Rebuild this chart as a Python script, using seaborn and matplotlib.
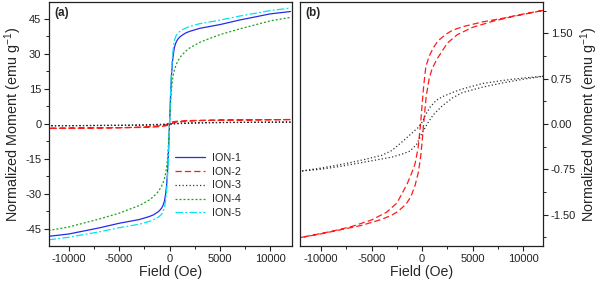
import numpy as np
import pandas as pd
import matplotlib
matplotlib.use("Agg")
import matplotlib.pyplot as plt
import seaborn as sns
from matplotlib.ticker import MultipleLocator

# field axis for the soft samples (no visible loop)
H_sat = [-12000, -10000, -7000, -5000, -3000, -2000, -1600, -1200, -1000, -800, -650, -500,
         -400, -300, -200, -150, -100, -50, 0, 50, 100, 150, 200, 300, 400, 500, 650, 800,
         1000, 1200, 1600, 2000, 3000, 5000, 7000, 10000, 12000]
M_ion1 = [-48.2, -47.2, -44.6, -42.6, -41.0, -39.7, -39.0, -37.9, -37.2, -36.2, -35.0, -33.0,
          -30.5, -27.0, -21.0, -16.5, -11.5, -6.0, 0.0, 6.0, 11.5, 16.5, 21.0, 27.0, 30.5,
          33.0, 35.0, 36.2, 37.2, 37.9, 39.0, 39.7, 41.0, 42.6, 44.6, 47.2, 48.2]
M_ion4 = [-45.7, -44.2, -40.8, -38.3, -35.0, -32.6, -31.2, -29.4, -28.2, -26.8, -25.3, -23.3,
          -21.5, -19.0, -15.0, -12.0, -8.0, -4.0, 0.0, 4.0, 8.0, 12.0, 15.0, 19.0, 21.5,
          23.3, 25.3, 26.8, 28.2, 29.4, 31.2, 32.6, 35.0, 38.3, 40.8, 44.2, 45.7]
M_ion5 = [-49.7, -48.6, -46.3, -44.5, -43.0, -41.8, -41.1, -40.2, -39.6, -38.8, -37.8, -36.0,
          -33.2, -29.5, -23.0, -18.5, -13.0, -7.0, 0.0, 7.0, 13.0, 18.5, 23.0, 29.5, 33.2,
          36.0, 37.8, 38.8, 39.6, 40.2, 41.1, 41.8, 43.0, 44.5, 46.3, 48.6, 49.7]

# ION-2 loop (descending then ascending branch)
H2_down = [12000, 10000, 8000, 6000, 4000, 3000, 2400, 1600, 1100, 700, 370, 150, 0, -150,
           -400, -700, -1000, -1500, -2500, -3500, -5000, -7000, -9000, -12000]
M2_down = [1.88, 1.82, 1.75, 1.69, 1.61, 1.55, 1.49, 1.38, 1.26, 1.12, 0.95, 0.62, 0.32, 0.0,
           -0.40, -0.66, -0.80, -1.00, -1.31, -1.46, -1.59, -1.70, -1.78, -1.88]
H2_up = [-12000, -10000, -8000, -6000, -4000, -3000, -2400, -1600, -1100, -700, -370, -150, 0,
         150, 400, 700, 1000, 1500, 2500, 3500, 5000, 7000, 9000, 12000]
M2_up = [-1.88, -1.82, -1.75, -1.68, -1.58, -1.51, -1.45, -1.33, -1.20, -1.02, -0.80, -0.55,
         -0.30, 0.0, 0.45, 0.75, 0.92, 1.08, 1.34, 1.48, 1.60, 1.70, 1.78, 1.88]

# ION-3 loop
H3_down = [12000, 10000, 8000, 6000, 4000, 3000, 2000, 1400, 800, 400, 0, -400, -1200,
           -2000, -3000, -4000, -6000, -8000, -10000, -12000]
M3_down = [0.79, 0.76, 0.72, 0.67, 0.58, 0.52, 0.45, 0.39, 0.28, 0.17, 0.03, -0.06, -0.18,
           -0.30, -0.44, -0.52, -0.60, -0.67, -0.73, -0.78]
H3_up = [-12000, -10000, -8000, -6000, -4000, -3000, -2000, -1200, -550, 0, 500, 1100, 2000,
         3000, 4000, 6000, 8000, 10000, 12000]
M3_up = [-0.78, -0.75, -0.70, -0.64, -0.58, -0.55, -0.50, -0.45, -0.34, -0.15, 0.0, 0.15,
         0.30, 0.43, 0.52, 0.61, 0.68, 0.74, 0.79]

sns.set_theme(style="ticks")
plt.rcParams['font.family'] = ['Liberation Sans', 'DejaVu Sans']
plt.rcParams['mathtext.fontset'] = 'custom'
plt.rcParams['mathtext.rm'] = 'Liberation Sans'
plt.rcParams['axes.linewidth'] = 0.9
plt.rcParams['axes.edgecolor'] = '#222222'

fig = plt.figure(figsize=(6.0, 2.82), dpi=100)
ax_a = fig.add_axes([0.0817, 0.128, 0.405, 0.865])
ax_b = fig.add_axes([0.500, 0.128, 0.405, 0.865])

BLUE, RED, GREY, GREEN, CYAN = '#2828ee', '#ff1a1a', '#333333', '#1aa51a', '#00e5ee'
lw = 0.9

def loop_df(h_down, m_down, h_up, m_up):
    return pd.DataFrame({'H': list(h_down) + list(h_up), 'M': list(m_down) + list(m_up)})

df2 = loop_df(H2_down, M2_down, H2_up, M2_up)
df3 = loop_df(H3_down, M3_down, H3_up, M3_up)

# panel (a)
sns.lineplot(x=H_sat, y=M_ion1, ax=ax_a, color=BLUE, lw=lw, sort=False, estimator=None, label='ION-1')
sns.lineplot(data=df2, x='H', y='M', ax=ax_a, color=RED, lw=lw, sort=False, estimator=None,
             label='ION-2', linestyle=(0, (5, 2.5)))
sns.lineplot(data=df3, x='H', y='M', ax=ax_a, color=GREY, lw=lw, sort=False, estimator=None,
             label='ION-3', linestyle=(0, (1, 1.8)))
sns.lineplot(x=H_sat, y=M_ion4, ax=ax_a, color=GREEN, lw=lw, sort=False, estimator=None,
             label='ION-4', linestyle=(0, (1.6, 1.6)))
sns.lineplot(x=H_sat, y=M_ion5, ax=ax_a, color=CYAN, lw=lw, sort=False, estimator=None,
             label='ION-5', linestyle=(0, (6, 1.8, 1.5, 1.8)))

ax_a.set_xlim(-11950, 12150)
ax_a.set_ylim(-52.3, 52.3)
ax_a.yaxis.set_major_locator(MultipleLocator(15))
ax_a.yaxis.set_minor_locator(MultipleLocator(7.5))
ax_a.set_ylabel('Normalized Moment (emu g$^{\\mathregular{-1}}$)', fontsize=10.4, labelpad=1)
ax_a.legend(loc='upper left', bbox_to_anchor=(0.5, 0.40), frameon=False, fontsize=7.8,
            handlelength=2.8, labelspacing=0.36, handletextpad=0.6, borderaxespad=0)
ax_a.text(0.022, 0.978, '(a)', transform=ax_a.transAxes, ha='left', va='top',
          fontsize=8.5, fontweight='bold')

# panel (b)
sns.lineplot(data=df2, x='H', y='M', ax=ax_b, color=RED, lw=lw, sort=False, estimator=None,
             linestyle=(0, (5, 2.5)))
sns.lineplot(data=df3, x='H', y='M', ax=ax_b, color=GREY, lw=lw, sort=False, estimator=None,
             linestyle=(0, (1, 1.8)))
ax_b.set_xlim(-12100, 11980)
ax_b.set_ylim(-2.02, 2.02)
ax_b.yaxis.set_major_locator(MultipleLocator(0.75))
ax_b.yaxis.set_minor_locator(MultipleLocator(0.375))
ax_b.yaxis.tick_right()
ax_b.yaxis.set_label_position('right')
ax_b.set_ylabel('Normalized Moment (emu g$^{\\mathregular{-1}}$)', fontsize=10.4, labelpad=2)
ax_b.text(0.022, 0.978, '(b)', transform=ax_b.transAxes, ha='left', va='top',
          fontsize=8.5, fontweight='bold')

for ax in (ax_a, ax_b):
    ax.xaxis.set_major_locator(MultipleLocator(5000))
    ax.xaxis.set_minor_locator(MultipleLocator(2500))
    ax.set_xlabel('Field (Oe)', fontsize=10.2, labelpad=1)
    ax.tick_params(which='major', direction='out', length=3.5, width=0.8, labelsize=8, pad=2,
                   colors='#222222')
    ax.tick_params(which='minor', direction='out', length=2, width=0.7, colors='#222222')
    ax.xaxis.set_major_formatter(plt.FuncFormatter(lambda v, p: f'{v:.0f}'))

ax_a.yaxis.set_major_formatter(plt.FuncFormatter(lambda v, p: f'{v:.0f}'))
ax_b.yaxis.set_major_formatter(plt.FuncFormatter(lambda v, p: f'{v:.2f}'))

fig.savefig('out.png', dpi=100)
